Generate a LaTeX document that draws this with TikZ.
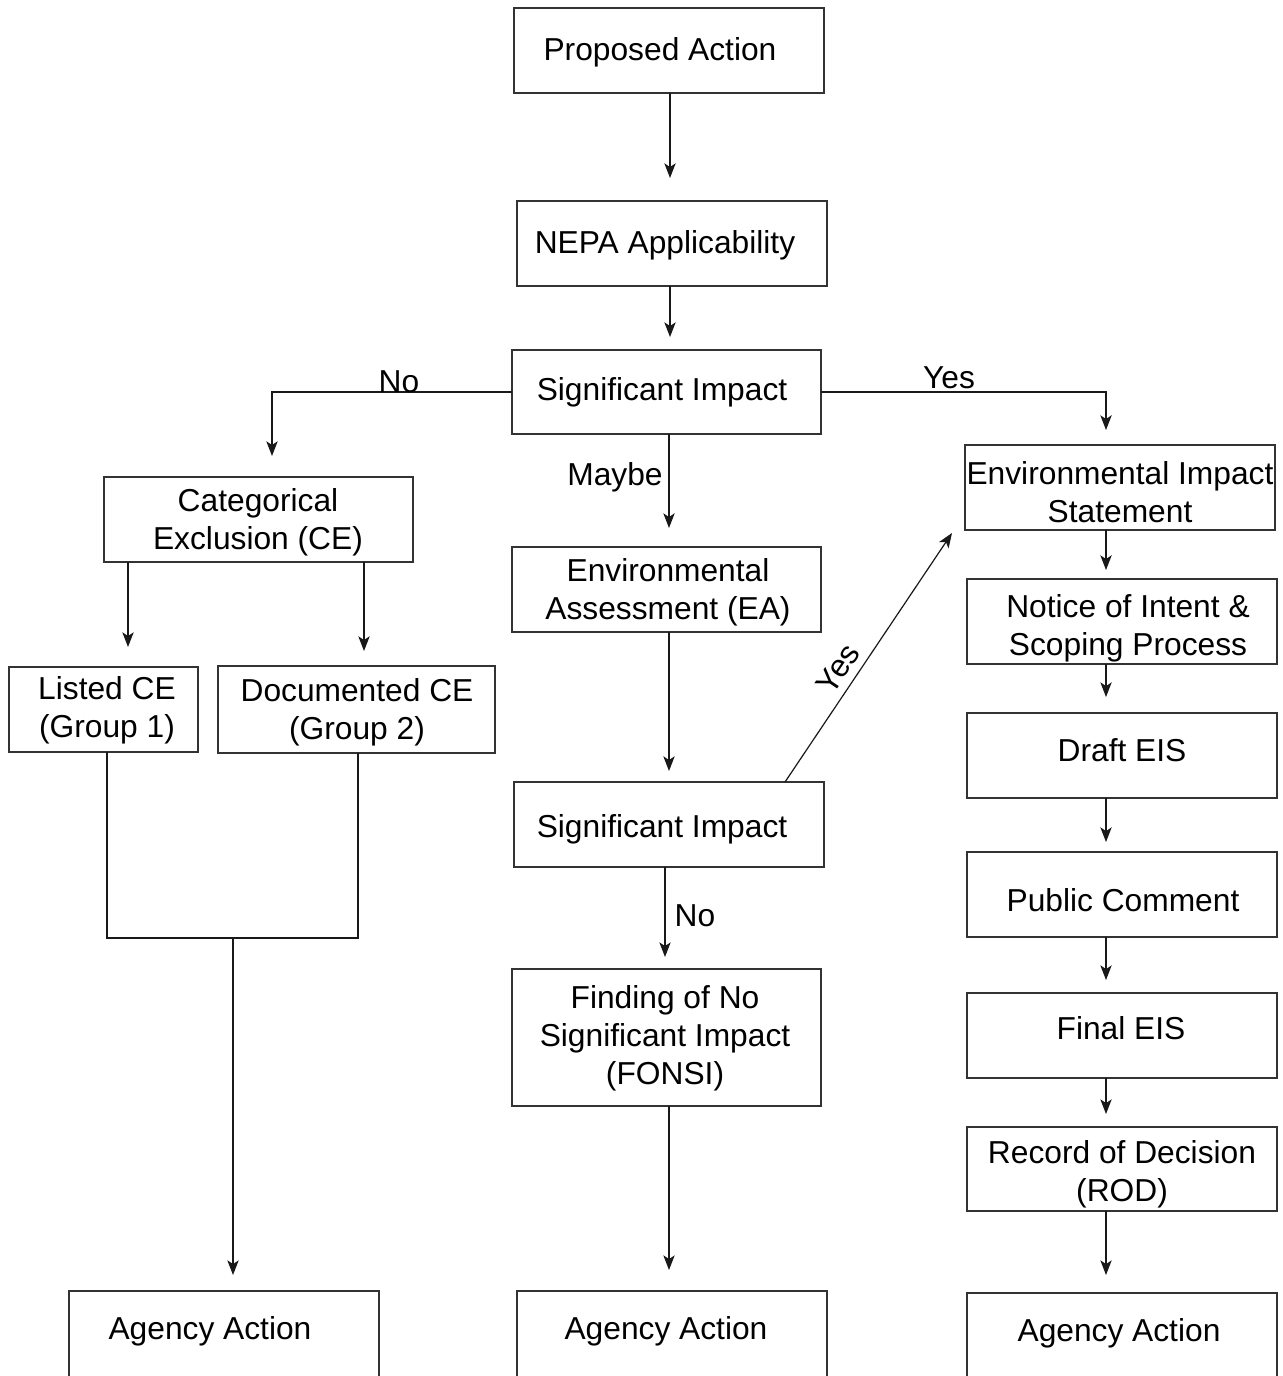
\documentclass[tikz,border=0pt]{standalone}
\usepackage{fontspec}
\setmainfont{Liberation Sans}
\usetikzlibrary{arrows.meta}
\tikzset{
  x=0.75pt, y=-0.75pt,
  box/.style={draw=black!80, line width=0.9pt, inner sep=0pt, outer sep=0pt, rectangle},
  txt/.style={font=\fontsize{23.8pt}{28.5pt}\selectfont, align=center, inner sep=0pt, text=black, yshift=-2pt},
  lbl/.style={font=\fontsize{23.8pt}{28.5pt}\selectfont, inner sep=0pt, text=black, yshift=-2pt},
  arr/.style={draw=black!90, line width=0.9pt, -{Stealth[length=11pt, width=8.5pt, inset=2.8pt]}},
  ln/.style={draw=black!90, line width=0.9pt}
}
\newcommand\mybox[5]{\node[box, minimum width={(#4-#2)*0.75pt}, minimum height={(#5-#3)*0.75pt}] (#1) at ({(#2+#4)/2},{(#3+#5)/2}) {};}
\begin{document}
\begin{tikzpicture}
\clip (0,0) rectangle (1282,1376);
\fill[white] (0,0) rectangle (1282,1376);

% boxes
\mybox{pa}{514}{8}{824}{93}
\mybox{nepa}{517}{201}{827}{286}
\mybox{si1}{512}{350}{821}{434}
\mybox{ce}{104}{477}{413}{562}
\mybox{lce}{9}{667}{198}{752}
\mybox{dce}{218}{666}{495}{753}
\mybox{aa1}{69}{1291}{379}{1420}
\mybox{ea}{512}{547}{821}{632}
\mybox{si2}{514}{782}{824}{867}
\mybox{fonsi}{512}{969}{821}{1106}
\mybox{aa2}{517}{1291}{827}{1420}
\mybox{eis}{965}{445}{1275}{530}
\mybox{noi}{967}{579}{1277}{664}
\mybox{draft}{967}{713}{1277}{798}
\mybox{pc}{967}{852}{1277}{937}
\mybox{final}{967}{993}{1277}{1078}
\mybox{rod}{967}{1127}{1277}{1211}
\mybox{aa3}{967}{1293}{1277}{1420}

% texts
\node[txt] at (660,50) {Proposed Action};
\node[txt] at (665,243) {NEPA Applicability};
\node[txt] at (662,390) {Significant Impact};
\node[txt] at (258,520) {Categorical\\Exclusion (CE)};
\node[txt] at (107,708) {Listed CE\\(Group 1)};
\node[txt] at (357,710) {Documented CE\\(Group 2)};
\node[txt] at (668,590) {Environmental\\Assessment (EA)};
\node[txt] at (662,827) {Significant Impact};
\node[txt] at (665,1036) {Finding of No\\Significant Impact\\(FONSI)};
\node[txt] at (210,1329) {Agency Action};
\node[txt] at (666,1329) {Agency Action};
\node[txt] at (1119,1331) {Agency Action};
\node[txt] at (1120,489) {Environmental Impact\\Statement};
\node[txt] at (1128,626) {Notice of Intent \&\\Scoping Process};
\node[txt] at (1122,747) {Draft EIS};
\node[txt] at (1123,897) {Public Comment};
\node[txt] at (1121,1025) {Final EIS};
\node[txt] at (1122,1172) {Record of Decision\\(ROD)};

% tip coordinates
\coordinate (t1) at (670,178);
\coordinate (t2) at (670,337);
\coordinate (t3) at (272,456);
\coordinate (t4) at (1106,430);
\coordinate (t5) at (669,528);
\coordinate (t6) at (128,647);
\coordinate (t7) at (364,651);
\coordinate (j1) at (107,938);
\coordinate (j2) at (358,938);
\coordinate (jm) at (233,938);
\coordinate (t8) at (233,1275);
\coordinate (t9) at (669,771);
\coordinate (ys) at (785,0);
\coordinate (t10) at (952,533);
\coordinate (t11) at (665,957);
\coordinate (t12) at (669,1270);
\coordinate (e1) at (1106,570);
\coordinate (e2) at (1106,697);
\coordinate (e3) at (1106,842);
\coordinate (e4) at (1106,980);
\coordinate (e5) at (1106,1114);
\coordinate (e6) at (1106,1275);

% connectors
\draw[arr] (pa.south -| t1) -- (t1);
\draw[arr] (nepa.south -| t2) -- (t2);
\draw[arr] (si1.west) -| (t3);
\draw[arr] (si1.east) -| (t4);
\draw[arr] (si1.south -| t5) -- (t5);
\draw[arr] (ce.south -| t6) -- (t6);
\draw[arr] (ce.south -| t7) -- (t7);
\draw[ln] (lce.south -| j1) -- (j1) -- (j2) -- (dce.south -| j2);
\draw[arr] (jm) -- (t8);
\draw[arr] (ea.south -| t9) -- (t9);
\draw[arr] (si2.north -| ys) -- (t10);
\draw[arr] (si2.south -| t11) -- (t11);
\draw[arr] (fonsi.south -| t12) -- (t12);
\draw[arr] (eis.south -| e1) -- (e1);
\draw[arr] (noi.south -| e2) -- (e2);
\draw[arr] (draft.south -| e3) -- (e3);
\draw[arr] (pc.south -| e4) -- (e4);
\draw[arr] (final.south -| e5) -- (e5);
\draw[arr] (rod.south -| e6) -- (e6);

% labels
\node[lbl] at (399,379) {No};
\node[lbl] at (949,375) {Yes};
\node[lbl] at (615,475) {Maybe};
\node[lbl] at (695,913) {No};
\node[lbl, rotate=56] at (838,666) {Yes};
\end{tikzpicture}
\end{document}
